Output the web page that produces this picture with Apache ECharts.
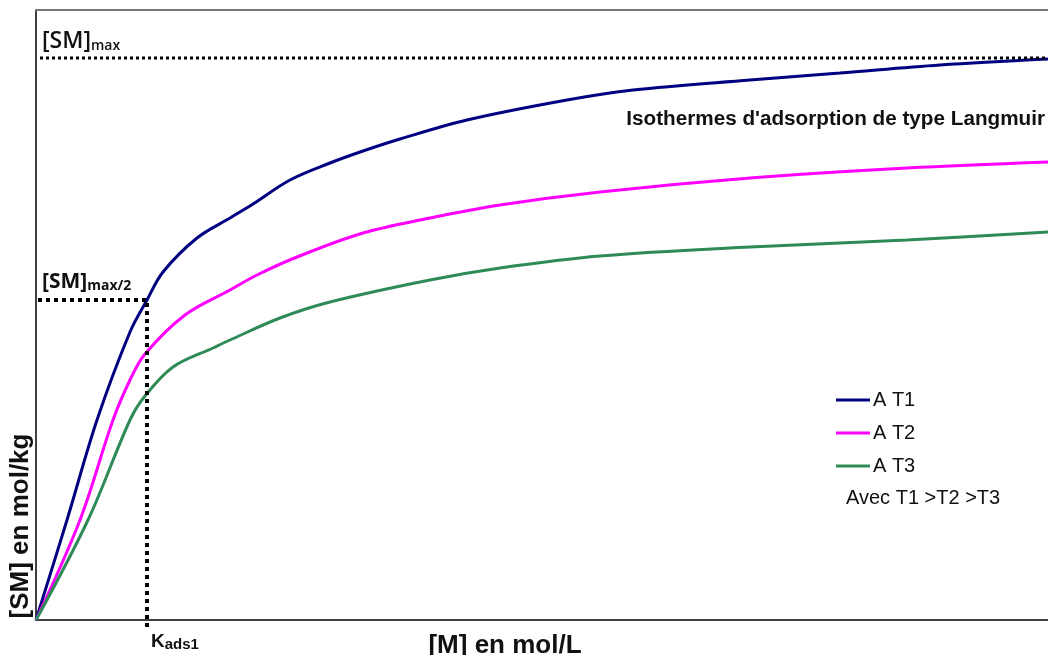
<!DOCTYPE html>
<html>
<head>
<meta charset="utf-8">
<script src="https://cdn.jsdelivr.net/npm/echarts@6/dist/echarts.min.js"></script>
<style>
html,body{margin:0;padding:0;background:#fff;}
#chart{width:1048px;height:655px;}
</style>
</head>
<body>
<div id="chart"></div>
<script>
// [M] (x) and [SM] (y)
var xT1 = [0, 31, 61, 94, 111, 127, 161, 194, 217, 254, 294, 327, 364, 431, 531, 597, 714, 804, 904, 1012];
var yT1 = [0, 100, 200, 288, 320, 348, 382, 402, 416, 440, 457, 469, 481, 500, 520, 530, 540, 547, 555, 561];
var xT2 = [0, 44, 77, 94, 109, 149, 194, 221, 261, 327, 394, 464, 564, 714, 871, 1012];
var yT2 = [0, 100, 200, 240, 266, 305, 330, 345, 363, 387, 402, 415, 428, 442, 452, 458];
var xT3 = [0, 52, 94, 109, 137, 177, 194, 244, 294, 394, 464, 564, 714, 871, 1012];
var yT3 = [0, 100, 200, 224, 253, 272, 280, 302, 318, 340, 352, 364, 373, 380, 388];
var seriesNames = ['A T1', 'A T2', 'A T3'];
var seriesColors = ['#000080', '#ff00ff', '#2e8b57'];

// repères
var smMax = 562;
var smHalf = 320;
var kAds = 111;
var xMax = 1012;
var yMax = 610;

function pairs(xs, ys) {
	var out = [];
	for (var i = 0; i < xs.length; i++) out.push([xs[i], ys[i]]);
	return out;
}

var chart = echarts.init(document.getElementById('chart'));

var curves = [pairs(xT1, yT1), pairs(xT2, yT2), pairs(xT3, yT3)];
var series = [];
for (var i = 0; i < curves.length; i++) {
	series.push({
		name: seriesNames[i],
		type: 'line',
		data: curves[i],
		smooth: 0.35,
		showSymbol: false,
		lineStyle: { color: seriesColors[i], width: 3 },
		itemStyle: { color: seriesColors[i] },
		z: 3
	});
}
series.push({
	name: 'max',
	type: 'line',
	data: [[4, smMax], [xMax, smMax]],
	showSymbol: false,
	lineStyle: { color: '#000', width: 3, type: [3, 3] },
	clip: false,
	silent: true
});
series.push({
	name: 'half',
	type: 'line',
	data: [[2, smHalf], [kAds, smHalf], [kAds, -8]],
	showSymbol: false,
	lineStyle: { color: '#000', width: 4, type: [4, 4] },
	clip: false,
	silent: true
});

var option = {
	animation: false,
	backgroundColor: '#fff',
	grid: { left: 36, right: 0, top: 10, bottom: 35 },
	xAxis: [
		{
			type: 'value', min: 0, max: xMax, position: 'bottom',
			axisLine: { show: true, lineStyle: { color: '#000', width: 1.5 } },
			axisTick: { show: false }, axisLabel: { show: false }, splitLine: { show: false }
		},
		{
			type: 'value', min: 0, max: xMax, position: 'top',
			axisLine: { show: true, onZero: false, lineStyle: { color: '#777', width: 2 } },
			axisTick: { show: false }, axisLabel: { show: false }, splitLine: { show: false }
		}
	],
	yAxis: {
		type: 'value', min: 0, max: yMax,
		axisLine: { show: true, lineStyle: { color: '#000', width: 1.5 } },
		axisTick: { show: false }, axisLabel: { show: false }, splitLine: { show: false }
	},
	legend: {
		data: seriesNames,
		orient: 'vertical',
		left: 836,
		top: 389,
		padding: 0,
		icon: 'rect',
		itemWidth: 34,
		itemHeight: 3,
		itemGap: 11,
		textStyle: { fontFamily: 'Liberation Sans, Arial', fontSize: 20, color: '#111', lineHeight: 22, padding: [0, 0, 0, -2] }
	},
	graphic: [
		{
			type: 'text', left: 42, top: 30,
			style: {
				text: '{a|[SM]}{b|max}',
				rich: {
					a: { fontFamily: 'Open Sans', fontWeight: 600, fontSize: 23, fill: '#111' },
					b: { fontFamily: 'Open Sans', fontWeight: 600, fontSize: 14, fill: '#111', padding: [9, 0, 0, 0] }
				}
			}
		},
		{
			type: 'text', left: 42, top: 272,
			style: {
				text: '{a|[SM]}{b|max/2}',
				rich: {
					a: { fontFamily: 'Open Sans', fontWeight: 700, fontSize: 21, fill: '#111' },
					b: { fontFamily: 'Open Sans', fontWeight: 700, fontSize: 14, fill: '#111', padding: [8, 0, 0, 0] }
				}
			}
		},
		{
			type: 'text', left: 151, top: 632,
			style: {
				text: '{a|K}{b|ads1}',
				rich: {
					a: { fontFamily: 'Liberation Sans', fontWeight: 'bold', fontSize: 19, fill: '#111' },
					b: { fontFamily: 'Liberation Sans', fontWeight: 'bold', fontSize: 15, fill: '#111', padding: [6, 0, 0, 0] }
				}
			}
		},
		{
			type: 'text', right: 3, top: 109,
			style: { text: "Isothermes d'adsorption de type Langmuir", fontFamily: 'Liberation Sans', fontWeight: 'bold', fontSize: 20.7, fill: '#111' }
		},
		{
			type: 'text', left: 846, top: 488,
			style: { text: 'Avec T1 >T2 >T3', fontFamily: 'Liberation Sans', fontSize: 20, fill: '#111' }
		},
		{
			type: 'text', x: 505, y: 646,
			style: { text: '[M] en mol/L', fontFamily: 'Liberation Sans', fontWeight: 'bold', fontSize: 26, fill: '#111', align: 'center', verticalAlign: 'middle' }
		},
		{
			type: 'text', x: 21, y: 526, rotation: Math.PI / 2,
			style: { text: '[SM] en mol/kg', fontFamily: 'Liberation Sans', fontWeight: 'bold', fontSize: 26, fill: '#111', align: 'center', verticalAlign: 'middle' }
		}
	],
	series: series
};
chart.setOption(option);
</script>
</body>
</html>
